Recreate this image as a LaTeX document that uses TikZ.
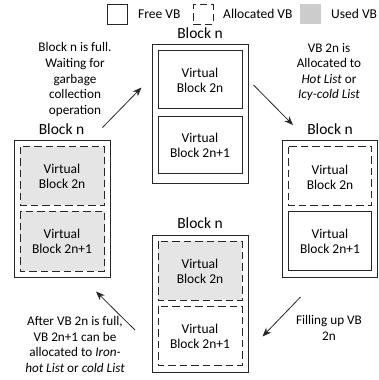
\documentclass[tikz,border=0pt]{standalone}
\usepackage{fontspec}
\setmainfont{Carlito}
\usetikzlibrary{arrows.meta}
\definecolor{usedfill}{gray}{0.90}
\definecolor{usedkey}{gray}{0.80}
\tikzset{
  outerbox/.style={draw=black!85, line width=0.95pt},
  freevb/.style={draw=black!85, line width=0.8pt, fill=white},
  allocvb/.style={draw=black!85, line width=0.8pt, dash pattern=on 7.5pt off 4pt},
  usedvb/.style={allocvb, fill=usedfill},
  vbtext/.style={align=center, font=\fontsize{13.5}{15}\selectfont, inner sep=0pt},
  blocklabel/.style={font=\fontsize{15.5}{17}\selectfont, inner sep=0pt},
  note/.style={align=center, font=\fontsize{13.2}{15.6}\selectfont, inner sep=0pt},
  flow/.style={draw=black!85, line width=0.8pt, -{Stealth[length=9pt,width=7pt]}},
}
\begin{document}
\begin{tikzpicture}[x=1pt, y=-1pt]
\useasboundingbox (0,0) rectangle (379,380);

% legend
\node[freevb, minimum width=20pt, minimum height=20pt] (kfree) at (117.5,14) {};
\node[anchor=west, vbtext] (tfree) at (138,14) {Free VB};
\node[allocvb, minimum width=20pt, minimum height=20pt] (kalloc) at (203,14) {};
\node[anchor=west, vbtext] (talloc) at (223,14) {Allocated VB};
\node[fill=usedkey, minimum width=21pt, minimum height=20pt, inner sep=0pt] (kused) at (310.5,14) {};
\node[anchor=west, vbtext] (tused) at (331,14) {Used VB};

% top block: both virtual blocks free
\node[blocklabel] (lt) at (200,33) {Block n};
\draw[outerbox] (152,44) rectangle (248,183);
\draw[freevb] (158,50) rectangle (242,108);
\node[vbtext] (t1) at (200,80) {Virtual\\Block 2n};
\draw[freevb] (158,116) rectangle (242,173);
\node[vbtext] (t2) at (200,145) {Virtual\\Block 2n+1};

% right block: VB 2n allocated
\node[blocklabel] (lr) at (330,129) {Block n};
\draw[outerbox] (282,140) rectangle (377.5,277.5);
\draw[allocvb] (288.5,146.5) rectangle (371.5,205.5);
\node[vbtext] (r1) at (330,177) {Virtual\\Block 2n};
\draw[freevb] (288.5,211) rectangle (371.5,270.5);
\node[vbtext] (r2) at (330,241) {Virtual\\Block 2n+1};

% bottom block: VB 2n used, VB 2n+1 allocated
\node[blocklabel] (lb) at (200,223) {Block n};
\draw[outerbox] (152,235) rectangle (248,372);
\draw[usedvb] (158,241) rectangle (242,300);
\node[vbtext] (b1) at (200,271) {Virtual\\Block 2n};
\draw[allocvb] (158,306) rectangle (242,365);
\node[vbtext] (b2) at (200,336) {Virtual\\Block 2n+1};

% left block: both virtual blocks used
\node[blocklabel] (ll) at (61.5,129) {Block n};
\draw[outerbox] (14.5,140) rectangle (110.5,277.5);
\draw[usedvb] (20,146.5) rectangle (104.5,205);
\node[vbtext] (l1) at (62,176) {Virtual\\Block 2n};
\draw[usedvb] (20,211) rectangle (104.5,271);
\node[vbtext] (l2) at (62,241) {Virtual\\Block 2n+1};

% transitions
\coordinate (a1s) at (102.5,127.5); \coordinate (a1e) at (141.5,87.5);
\coordinate (a2s) at (253.5,85);    \coordinate (a2e) at (293,125);
\coordinate (a3s) at (300.5,297);   \coordinate (a3e) at (262.5,336.5);
\coordinate (a4s) at (135,330);     \coordinate (a4e) at (96,291.5);
\draw[flow] (a1s) -- (a1e);
\draw[flow] (a2s) -- (a2e);
\draw[flow] (a3s) -- (a3e);
\draw[flow] (a4s) -- (a4e);

% transition notes
\node[note] (n1) at (75,79.5) {Block n is full.\\Waiting for\\garbage\\collection\\operation};
\node[note] (n2) at (329,72) {VB 2n is\\Allocated to\\\textit{Hot List} or\\\textit{Icy-cold List}};
\node[note] (n3) at (329,328) {Filling up VB\\2n};
\node[note] (n4) at (75,344.5) {After VB 2n is full,\\VB 2n+1 can be\\allocated to \textit{Iron-}\\\textit{hot List} or \textit{cold List}};
\end{tikzpicture}
\end{document}
